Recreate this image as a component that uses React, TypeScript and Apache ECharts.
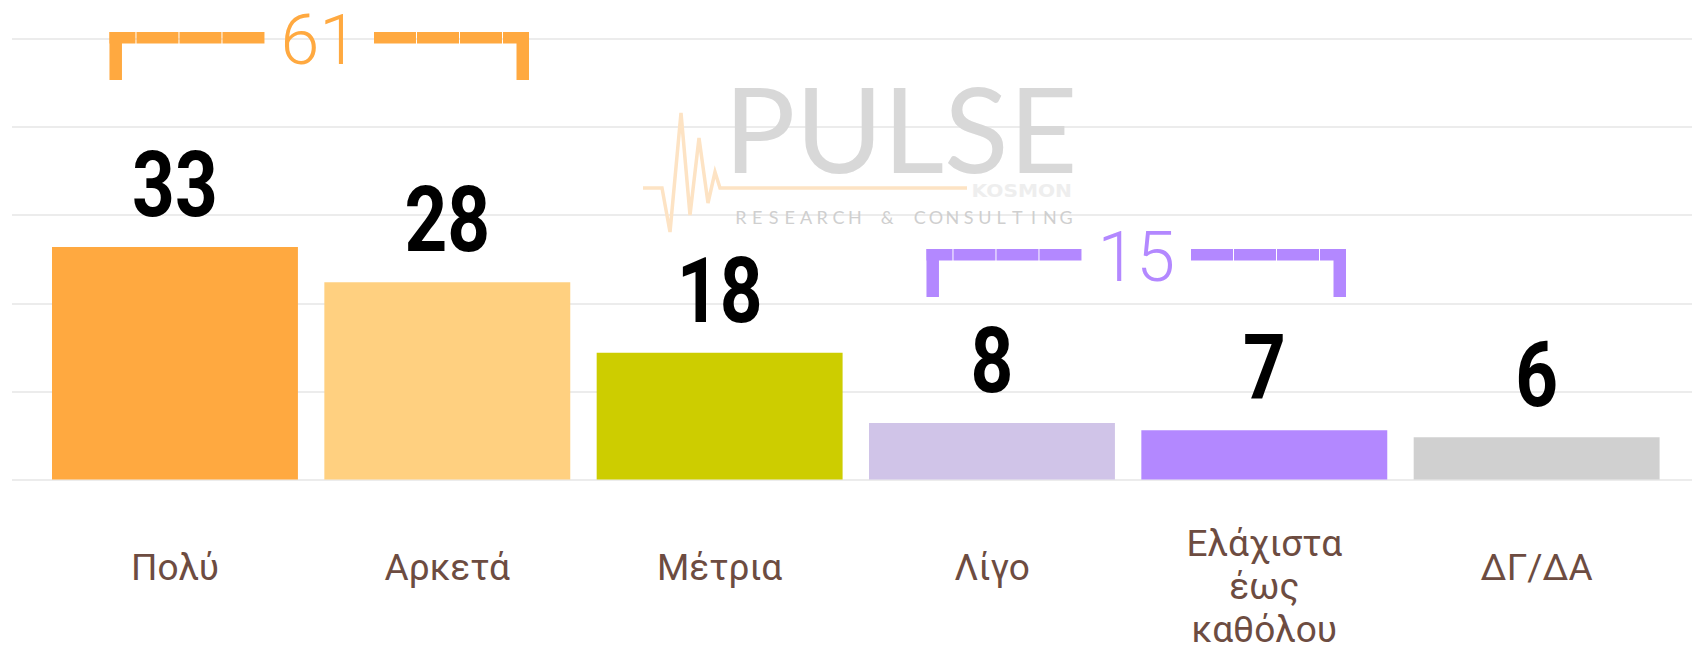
import React, { useEffect, useRef } from "react";
import * as echarts from "echarts";

const categories = ["Πολύ", "Αρκετά", "Μέτρια", "Λίγο", "Ελάχιστα\nέως\nκαθόλου", "ΔΓ/ΔΑ"];
const values = [33, 28, 18, 8, 7, 6];
const barColors = ["#FFA940", "#FFD080", "#CDCD00", "#D0C4E8", "#B388FF", "#D0D0D0"];
const groupFrom = [0, 3];
const groupTo = [1, 4];
const groupColors = ["#FFA940", "#B388FF"];
const yTicks = [0, 12.5, 25, 37.5, 50, 62.5];

const W = 1692;
const H = 645;
const GRID_TOP = 39;
const GRID_BOTTOM = 165.5;
const bracketTops = [32, 249];

function buildBracket(left: number, right: number, top: number, color: string, label: string): any[] {
  const th = 11.5;
  const vh = 48;
  const vw = 12.5;
  const els: any[] = [];
  const rect = (x: number, y: number, w: number, h: number) => ({
    type: "rect",
    shape: { x, y, width: w, height: h },
    style: { fill: color },
    silent: true,
    z: 10,
  });
  els.push(rect(left, top, vw, vh));
  els.push(rect(left, top, 26, th));
  els.push(rect(left + 27, top, 42, th));
  els.push(rect(left + 70, top, 42, th));
  els.push(rect(left + 113, top, 42, th));
  els.push(rect(right - vw, top, vw, vh));
  els.push(rect(right - 26, top, 26, th));
  els.push(rect(right - 69, top, 42, th));
  els.push(rect(right - 112, top, 42, th));
  els.push(rect(right - 155, top, 42, th));
  els.push({
    type: "text",
    x: (left + right) / 2,
    y: top + th / 2 + 2,
    silent: true,
    z: 10,
    style: {
      text: label,
      fill: color,
      fontFamily: "Roboto, sans-serif",
      fontWeight: 300,
      fontSize: 70,
      align: "center",
      verticalAlign: "middle",
    },
  });
  return els;
}

function buildWatermark(): any[] {
  const els: any[] = [];
  els.push({
    type: "polyline",
    silent: true,
    z: 1,
    shape: {
      points: [
        [643, 188], [662, 188], [670, 232], [681, 113], [690, 215],
        [699, 138], [708, 203], [715, 172], [720, 188], [967, 188],
      ],
    },
    style: { stroke: "#FDE3C4", lineWidth: 3.5, fill: null },
  });
  els.push({
    type: "text",
    x: 724,
    y: 127,
    silent: true,
    z: 1,
    style: {
      text: "PULSE",
      fill: "#D8D8D8",
      fontFamily: "Lato, 'Open Sans', sans-serif",
      fontWeight: "normal",
      fontSize: 119,
      align: "left",
      verticalAlign: "middle",
    },
  });
  const rc = "RESEARCH & CONSULTING";
  const x0 = 741;
  const x1 = 1066;
  for (let i = 0; i < rc.length; i++) {
    if (rc[i] === " ") continue;
    els.push({
      type: "text",
      x: x0 + ((x1 - x0) * i) / (rc.length - 1),
      y: 217,
      silent: true,
      z: 1,
      style: {
        text: rc[i],
        fill: "#CFCFCF",
        fontFamily: "Lato, sans-serif",
        fontSize: 18,
        align: "center",
        verticalAlign: "middle",
      },
    });
  }
  els.push({
    type: "text",
    x: 1072,
    y: 190.5,
    scaleX: 1.12,
    silent: true,
    z: 1,
    style: {
      text: "KOSMON",
      fill: "#EEEEEE",
      fontFamily: "'DejaVu Sans', sans-serif",
      fontWeight: "bold",
      fontSize: 18,
      align: "right",
      verticalAlign: "middle",
    },
  });
  return els;
}

export default function App() {
  const ref = useRef<HTMLDivElement>(null);

  useEffect(() => {
    if (!ref.current) return;
    const chart = echarts.init(ref.current, null, { renderer: "svg" });
    const option: any = {
      animation: false,
      backgroundColor: "#ffffff",
      grid: [
        { left: 12, right: 0, top: GRID_TOP, bottom: GRID_BOTTOM, outerBoundsMode: "none", containLabel: false },
        { left: 38.8, right: 19.2, top: GRID_TOP, bottom: GRID_BOTTOM, outerBoundsMode: "none", containLabel: false },
      ],
      xAxis: [
        {
          gridIndex: 0,
          type: "category",
          data: categories,
          show: false,
        },
        {
          gridIndex: 1,
          type: "category",
          data: categories,
          axisLine: { show: false },
          axisTick: { show: false },
          axisLabel: {
            interval: 0,
            color: "#6D4C41",
            fontFamily: "Roboto, sans-serif",
            fontSize: 37,
            lineHeight: 43,
            verticalAlign: "middle",
            margin: 88,
            formatter: (v: string) => (v.indexOf("\n") >= 0 ? "{sp| }\n" + v : v),
            rich: {
              sp: { fontSize: 8, lineHeight: 37 },
            },
          },
        },
      ],
      yAxis: [
        {
          gridIndex: 0,
          type: "value",
          min: yTicks[0],
          max: yTicks[yTicks.length - 1],
          interval: yTicks[1] - yTicks[0],
          axisLabel: { show: false },
          axisLine: { show: false },
          axisTick: { show: false },
          splitLine: { show: true, lineStyle: { color: "#ECECEC", width: 2 } },
        },
        {
          gridIndex: 1,
          type: "value",
          min: yTicks[0],
          max: yTicks[yTicks.length - 1],
          interval: yTicks[1] - yTicks[0],
          show: false,
          splitLine: { show: false },
        },
      ],
      series: [
        {
          type: "bar",
          xAxisIndex: 1,
          yAxisIndex: 1,
          barCategoryGap: "9.7%",
          z: 5,
          data: values.map((v, i) => ({ value: v, itemStyle: { color: barColors[i] } })),
        },
        {
          type: "custom",
          xAxisIndex: 1,
          yAxisIndex: 1,
          z: 6,
          silent: true,
          data: values.map((v, i) => [i, v]),
          renderItem: (params: any, api: any) => {
            const v = api.value(1);
            const p = api.coord([api.value(0), v]);
            return {
              type: "text",
              x: p[0],
              y: p[1] - 62,
              scaleX: 0.83,
              style: {
                text: String(v),
                fill: "#000000",
                fontFamily: "Roboto, sans-serif",
                fontWeight: "bold",
                fontSize: 90,
                align: "center",
                verticalAlign: "middle",
              },
            };
          },
        },
      ],
    };
    chart.setOption(option);

    const cx = (i: number) => chart.convertToPixel({ xAxisIndex: 1 }, i) as number;
    const graphics: any[] = [...buildWatermark()];
    for (let g = 0; g < groupFrom.length; g++) {
      let sum = 0;
      for (let i = groupFrom[g]; i <= groupTo[g]; i++) sum += values[i];
      const left = cx(groupFrom[g]) - 65.5;
      const right = cx(groupTo[g]) + 81.7;
      graphics.push(...buildBracket(left, right, bracketTops[g], groupColors[g], String(sum)));
    }
    chart.setOption({ graphic: graphics });

    return () => chart.dispose();
  }, []);

  return (
    <div
      ref={ref}
      style={{ position: "absolute", left: 0, top: 0, width: W, height: H }}
    />
  );
}
